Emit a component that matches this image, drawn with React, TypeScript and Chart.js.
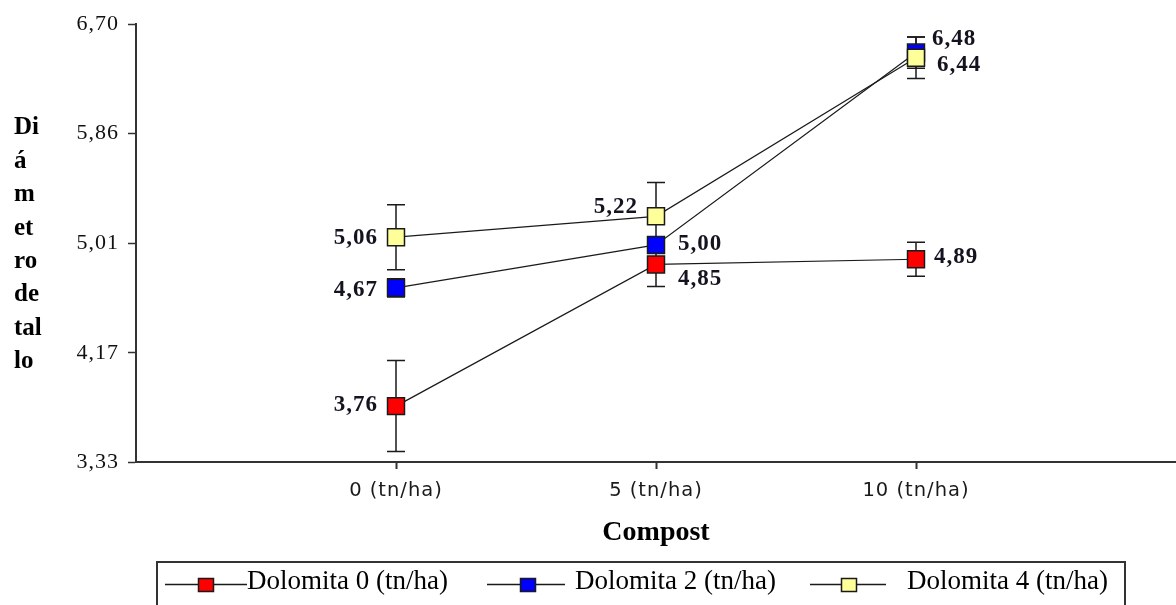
import { useEffect, useRef } from 'react';
import { Chart, registerables } from 'chart.js';

Chart.register(...registerables);

// ---- data ----
const categories = ['0 (tn/ha)', '5 (tn/ha)', '10 (tn/ha)'];
const seriesNames = ['Dolomita 0 (tn/ha)', 'Dolomita 2 (tn/ha)', 'Dolomita 4 (tn/ha)'];
const dolomita0 = [3.76, 4.85, 4.89];
const dolomita2 = [4.67, 5.0, 6.48];
const dolomita4 = [5.06, 5.22, 6.44];
const error0 = [0.35, 0.17, 0.13];
const error2 = [0.07, 0.05, 0.12];
const error4 = [0.25, 0.26, 0.16];
const yTicks = [3.33, 4.17, 5.01, 5.86, 6.7];
const yTitleLines = ['Di', 'á', 'm', 'et', 'ro', 'de', 'tal', 'lo'];
const xTitle = 'Compost';

// ---- styles ----
const seriesColors = ['#ff0000', '#0000ff', '#ffff99'];
const labelPlacement = [
  [
    { align: 'right', dx: -18, dy: -1 },
    { align: 'left', dx: 22, dy: 15 },
    { align: 'left', dx: 18, dy: -2 },
  ],
  [
    { align: 'right', dx: -18, dy: 2 },
    { align: 'left', dx: 22, dy: -1 },
    { align: 'left', dx: 16, dy: -14 },
  ],
  [
    { align: 'right', dx: -18, dy: 1 },
    { align: 'right', dx: -18, dy: -9 },
    { align: 'left', dx: 21, dy: 7 },
  ],
];
const legendItems = [
  { lineFrom: 165, lineTo: 247, marker: 206, text: 247 },
  { lineFrom: 487, lineTo: 565, marker: 528, text: 575 },
  { lineFrom: 810, lineTo: 886, marker: 849, text: 907 },
];

const seriesValues = [dolomita0, dolomita2, dolomita4];
const seriesErrors = [error0, error2, error4];
const fmt = (v: number) => v.toFixed(2).replace('.', ',');
const INK = '#1a1a1a';

const extrasPlugin = {
  id: 'extras',
  beforeDraw(chart: any) {
    chart.ctx.letterSpacing = '1px';
  },
  beforeDatasetsDraw(chart: any) {
    const ctx = chart.ctx;
    ctx.letterSpacing = '0px';
    // error bars
    const yScale = chart.scales.y;
    ctx.save();
    ctx.strokeStyle = INK;
    ctx.lineWidth = 1.5;
    seriesValues.forEach((vals, i) => {
      const meta = chart.getDatasetMeta(i);
      vals.forEach((v, j) => {
        const x = meta.data[j].x;
        const top = yScale.getPixelForValue(v + seriesErrors[i][j]);
        const bot = yScale.getPixelForValue(v - seriesErrors[i][j]);
        ctx.beginPath();
        ctx.moveTo(x, top);
        ctx.lineTo(x, bot);
        ctx.moveTo(x - 9, top);
        ctx.lineTo(x + 9, top);
        ctx.moveTo(x - 9, bot);
        ctx.lineTo(x + 9, bot);
        ctx.stroke();
      });
    });
    ctx.restore();
  },
  afterDraw(chart: any) {
    const ctx = chart.ctx;
    ctx.save();
    // data labels
    ctx.letterSpacing = '1px';
    ctx.font = 'bold 23px "Liberation Serif"';
    ctx.fillStyle = '#141420';
    ctx.textBaseline = 'middle';
    seriesValues.forEach((vals, i) => {
      const meta = chart.getDatasetMeta(i);
      vals.forEach((v, j) => {
        const p = labelPlacement[i][j];
        ctx.textAlign = p.align;
        ctx.fillText(fmt(v), meta.data[j].x + p.dx, meta.data[j].y + p.dy);
      });
    });
    ctx.letterSpacing = '0px';
    // y title (stacked)
    ctx.fillStyle = '#000';
    ctx.textAlign = 'left';
    ctx.font = 'bold 25px "Liberation Serif"';
    yTitleLines.forEach((t, k) => {
      ctx.fillText(t, 14, 128 + k * 33.4);
    });
    // x title
    const ca = chart.chartArea;
    ctx.textAlign = 'center';
    ctx.textBaseline = 'alphabetic';
    ctx.font = 'bold 28px "Liberation Serif"';
    ctx.fillText(xTitle, (ca.left + ca.right) / 2, 540);
    // legend
    ctx.strokeStyle = '#333';
    ctx.lineWidth = 2;
    ctx.strokeRect(157, 562, 1125 - 157, 80);
    ctx.font = '27px "Liberation Serif"';
    ctx.textAlign = 'left';
    legendItems.forEach((it, i) => {
      ctx.strokeStyle = INK;
      ctx.lineWidth = 1.5;
      ctx.beginPath();
      ctx.moveTo(it.lineFrom, 584.5);
      ctx.lineTo(it.lineTo, 584.5);
      ctx.stroke();
      ctx.fillStyle = seriesColors[i];
      ctx.fillRect(it.marker - 7.5, 578.5, 15, 13);
      ctx.strokeRect(it.marker - 7.5, 578.5, 15, 13);
      ctx.fillStyle = '#000';
      ctx.fillText(seriesNames[i], it.text, 589);
    });
    ctx.restore();
  },
};

export default function App() {
  const ref = useRef<HTMLCanvasElement | null>(null);
  useEffect(() => {
    if (!ref.current) return;
    const chart = new Chart(ref.current, {
      type: 'line',
      data: {
        datasets: seriesValues.map((vals, i) => ({
          label: seriesNames[i],
          data: vals.map((v, j) => ({ x: j, y: v })),
          borderColor: INK,
          borderWidth: 1.2,
          pointStyle: 'rect',
          pointRadius: 12,
          pointHoverRadius: 12,
          pointBackgroundColor: seriesColors[i],
          pointBorderColor: INK,
          pointBorderWidth: 1.5,
          order: 2 - i,
          tension: 0,
          fill: false,
        })),
      },
      options: {
        animation: false,
        responsive: false,
        events: [],
        layout: { autoPadding: false, padding: { top: 24, left: 0, right: 0, bottom: 0 } },
        plugins: { legend: { display: false }, tooltip: { enabled: false } },
        scales: {
          x: {
            type: 'linear',
            min: -1,
            max: 3,
            afterBuildTicks: (s: any) => {
              s.ticks = categories.map((_, i) => ({ value: i }));
            },
            afterFit: (s: any) => {
              s.height = 143;
              s.paddingLeft = 0;
              s.paddingRight = 0;
            },
            grid: { drawOnChartArea: false, drawTicks: true, tickLength: 7, tickWidth: 2, tickColor: '#333' },
            border: { display: true, color: '#333', width: 2 },
            ticks: {
              callback: (v: any) => categories[v] ?? '',
              font: { family: 'DejaVu Sans', size: 19.5 },
              color: '#1a1a1a',
              padding: 10,
              maxRotation: 0,
              autoSkip: false,
            },
          },
          y: {
            min: 3.33,
            max: 6.7,
            afterBuildTicks: (s: any) => {
              s.ticks = yTicks.map((v) => ({ value: v }));
            },
            afterFit: (s: any) => {
              s.width = 136;
            },
            grid: { drawOnChartArea: false, drawTicks: true, tickLength: 8, tickWidth: 1.5, tickColor: '#333' },
            border: { display: true, color: '#333', width: 2 },
            ticks: {
              callback: (v: any) => fmt(Number(v)),
              font: { family: 'Liberation Serif', size: 22 },
              color: '#111',
              padding: 9,
              autoSkip: false,
            },
          },
        },
      },
      plugins: [extrasPlugin],
    } as any);
    return () => chart.destroy();
  }, []);
  return (
    <div style={{ position: 'fixed', left: 0, top: 0, width: 1176, height: 605, background: '#fff' }}>
      <canvas ref={ref} width={1176} height={605} style={{ display: 'block' }} />
    </div>
  );
}
